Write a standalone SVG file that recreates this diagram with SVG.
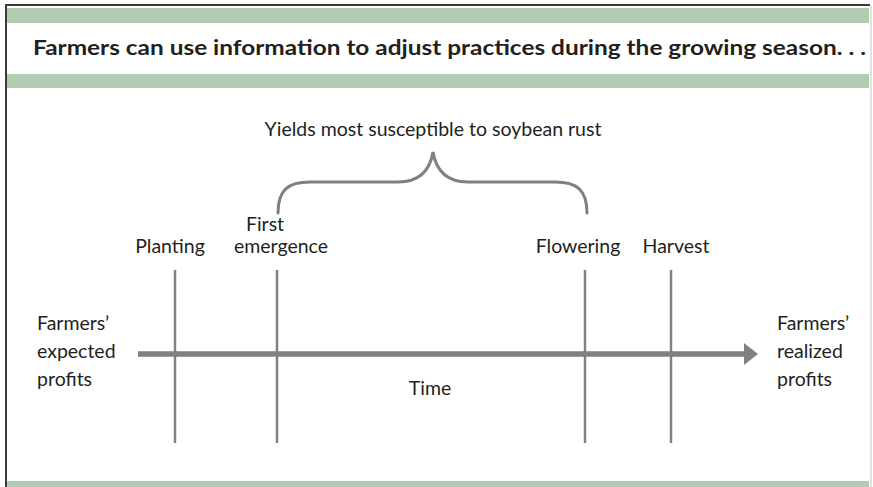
<svg xmlns="http://www.w3.org/2000/svg" width="873" height="487" viewBox="0 0 873 487">
  <style>
    .band { fill: #b2cbb2; }
    .lbl { font-family: Lato, "Liberation Sans", sans-serif; font-size: 19.5px; fill: #231f20; }
    .title { font-family: Lato, "Liberation Sans", sans-serif; font-size: 20px; font-weight: bold; fill: #231f20; }
    .stage { stroke: #808080; stroke-width: 2.5; fill: none; }
    .brace { stroke: #808080; stroke-width: 3; fill: none; stroke-linecap: round; }
    .axis { stroke: #808080; stroke-width: 5.5; fill: none; }
  </style>
  <defs>
    <marker id="head" viewBox="0 0 14 22" refX="1" refY="11" markerWidth="14" markerHeight="22" markerUnits="userSpaceOnUse" orient="auto">
      <path d="M0,0 L14,11 L0,22 Z" fill="#808080"/>
    </marker>
  </defs>

  <!-- frame and bands -->
  <rect x="0" y="0" width="873" height="487" fill="#ffffff"/>
  <rect class="band" x="7" y="8" width="862" height="15"/>
  <rect class="band" x="7" y="74" width="862" height="14"/>
  <rect class="band" x="7" y="481" width="862" height="6"/>
  <line x1="6" y1="5" x2="6" y2="487" stroke="#3a3a3a" stroke-width="2"/>
  <line x1="5" y1="5" x2="870" y2="5" stroke="#3a3a3a" stroke-width="2"/>
  <line x1="871" y1="5" x2="871" y2="487" stroke="#d8d8d8" stroke-width="1.5"/>

  <g id="title">
    <text class="title" x="33" y="55" textLength="833" lengthAdjust="spacingAndGlyphs">Farmers can use information to adjust practices during the growing season. . .</text>
  </g>

  <!-- timeline, stage markers and brace -->
  <g id="connectors">
    <line class="axis" x1="138" y1="354" x2="745" y2="354" marker-end="url(#head)"/>
    <line class="stage" x1="175" y1="270" x2="175" y2="443"/>
    <line class="stage" x1="277" y1="270" x2="277" y2="443"/>
    <line class="stage" x1="585" y1="270" x2="585" y2="443"/>
    <line class="stage" x1="671" y1="270" x2="671" y2="443"/>
    <path class="brace" d="M278,213 C278,190 288,182 310,182 L398,182 C420,182 430,170 433,152 C436,170 446,182 468,182 L555,182 C577,182 587,190 587,213"/>
  </g>

  <g id="brace-label">
    <text class="lbl" x="433" y="136" text-anchor="middle">Yields most susceptible to soybean rust</text>
  </g>
  <g id="planting">
    <text class="lbl" x="170" y="253" text-anchor="middle">Planting</text>
  </g>
  <g id="first-emergence">
    <text class="lbl" x="265" y="231" text-anchor="middle">First</text>
    <text class="lbl" x="281" y="253" text-anchor="middle">emergence</text>
  </g>
  <g id="flowering">
    <text class="lbl" x="578" y="253" text-anchor="middle">Flowering</text>
  </g>
  <g id="harvest">
    <text class="lbl" x="676" y="253" text-anchor="middle">Harvest</text>
  </g>
  <g id="expected-profits">
    <text class="lbl" x="37" y="330">Farmers’</text>
    <text class="lbl" x="37" y="358">expected</text>
    <text class="lbl" x="37" y="386">profits</text>
  </g>
  <g id="realized-profits">
    <text class="lbl" x="777" y="330">Farmers’</text>
    <text class="lbl" x="777" y="358">realized</text>
    <text class="lbl" x="777" y="386">profits</text>
  </g>
  <g id="time">
    <text class="lbl" x="430" y="395" text-anchor="middle">Time</text>
  </g>
</svg>
